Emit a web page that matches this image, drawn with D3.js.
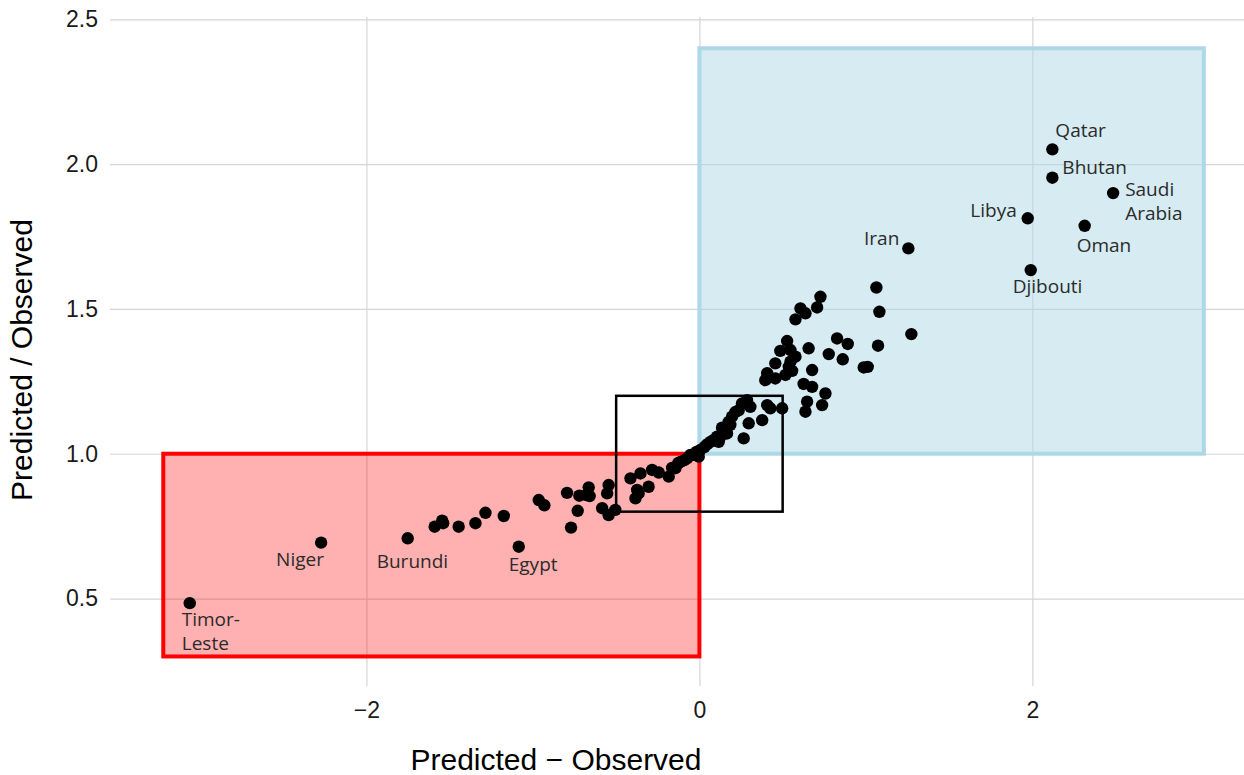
<!DOCTYPE html>
<html>
<head>
<meta charset="utf-8">
<script src="https://cdn.jsdelivr.net/npm/d3@7"></script>
<style>
  body { margin: 0; background: #fff; }
  svg { display: block; }
</style>
</head>
<body>
<script>
const w = 1244
const h = 775

// unlabeled countries: predicted - observed, predicted / observed
const diffVals = [
  -1.590, -1.545, -1.539, -1.446, -1.345, -1.285, -1.175, -0.965, -0.931, -0.795,
  -0.731, -0.771, -0.721, -0.665, -0.659, -0.545, -0.554, -0.584, -0.545, -0.505,
  -0.414, -0.354, -0.284, -0.305, -0.374, -0.384, -0.365, -0.184, -0.164, -0.144,
  -0.126, -0.114, -0.090, -0.074, -0.054, -0.034, -0.018, 0.006, 0.030, 0.066,
  0.084, 0.106, 0.126, 0.116, 0.146, 0.166, 0.176, 0.196, 0.216, 0.266,
  0.296, 0.377, 0.256, 0.286, 0.306, 0.407, 0.426, 0.497, 1.063, 1.081,
  1.273, 1.073, 0.727, 0.707, 0.607, 0.637, 0.577, 0.827, 0.891, 0.777,
  0.861, 0.987, 1.011, 0.656, 0.527, 0.486, 0.547, 0.456, 0.547, 0.407,
  0.396, 0.456, 0.517, 0.557, 0.677, 0.626, 0.677, 0.757, 0.737, 0.647,
  0.637, -0.679, 0.046, -0.004, 0.136, 0.186, 0.236, 0.577, 0.537, -0.244
]
const ratioVals = [
  0.748, 0.769, 0.760, 0.748, 0.760, 0.796, 0.785, 0.840, 0.822, 0.865,
  0.803, 0.745, 0.855, 0.884, 0.854, 0.892, 0.863, 0.812, 0.788, 0.806,
  0.915, 0.932, 0.944, 0.886, 0.875, 0.846, 0.863, 0.921, 0.951, 0.950,
  0.968, 0.972, 0.978, 0.984, 0.996, 0.996, 1.006, 1.013, 1.023, 1.041,
  1.047, 1.059, 1.058, 1.041, 1.082, 1.070, 1.110, 1.128, 1.144, 1.053,
  1.105, 1.116, 1.174, 1.185, 1.162, 1.168, 1.157, 1.157, 1.574, 1.490,
  1.413, 1.373, 1.542, 1.505, 1.502, 1.485, 1.464, 1.398, 1.379, 1.344,
  1.326, 1.298, 1.300, 1.364, 1.389, 1.355, 1.358, 1.312, 1.318, 1.278,
  1.254, 1.260, 1.272, 1.286, 1.289, 1.241, 1.231, 1.208, 1.168, 1.180,
  1.145, 0.857, 1.032, 0.990, 1.090, 1.100, 1.150, 1.335, 1.300, 0.935
]

// labeled countries
const labelNames = ['Qatar', 'Bhutan', 'Saudi\nArabia', 'Libya', 'Iran', 'Oman',
  'Djibouti', 'Niger', 'Burundi', 'Egypt', 'Timor-\nLeste']
const labelDiff = [2.120, 2.120, 2.485, 1.972, 1.255, 2.314, 1.990, -2.272, -1.752, -1.085, -3.061]
const labelRatio = [2.051, 1.953, 1.900, 1.813, 1.709, 1.787, 1.634, 0.693, 0.708, 0.679, 0.484]

// shaded zones [x0, x1, y0, y1]
const zoneRed = [-3.22, 0, 0.3, 1.0]
const zoneBlue = [0, 3.03, 1.0, 2.4]
const zoneCenter = [-0.5, 0.5, 0.8, 1.2]

const xTicks = [-2, 0, 2]
const yTicks = [0.5, 1.0, 1.5, 2.0, 2.5]

// label placement (pixel nudges from the point)
const nudge = {
  'Qatar': [3, -12, 'start'],
  'Bhutan': [10, -4, 'start'],
  'Saudi\nArabia': [12, 3, 'start'],
  'Libya': [-11, -1, 'end'],
  'Iran': [-9, -3, 'end'],
  'Oman': [-8, 26, 'start'],
  'Djibouti': [-18, 23, 'start'],
  'Niger': [-45, 23, 'start'],
  'Burundi': [-31, 30, 'start'],
  'Egypt': [-10, 24, 'start'],
  'Timor-\nLeste': [-8, 23, 'start']
}

const pLeft = 110, pRight = 1255.5, pTop = 17, pBottom = 686

const x = d3.scaleLinear()
    .domain([-3.54, 3.34])
    .range([pLeft, pRight])

const y = d3.scaleLinear()
    .domain([0.198, 2.508])
    .range([pBottom, pTop])

const svg = d3.select('body').append('svg')
    .attr('width', w)
    .attr('height', h)

// grid
svg.append('g')
    .attr('transform', `translate(0,${pBottom})`)
    .call(d3.axisBottom(x).tickValues(xTicks).tickSize(-(pBottom - pTop)).tickFormat(''))
    .call(g => g.select('.domain').remove())
    .selectAll('line').attr('stroke', '#d5d5d5').attr('stroke-width', 1.2)

svg.append('g')
    .attr('transform', `translate(${pLeft},0)`)
    .call(d3.axisLeft(y).tickValues(yTicks).tickSize(-(pRight - pLeft)).tickFormat(''))
    .call(g => g.select('.domain').remove())
    .selectAll('line').attr('stroke', '#d5d5d5').attr('stroke-width', 1.2)

// zones
function zone(z, fill, stroke, sw) {
  svg.append('rect')
      .attr('x', x(z[0]))
      .attr('y', y(z[3]))
      .attr('width', x(z[1]) - x(z[0]))
      .attr('height', y(z[2]) - y(z[3]))
      .attr('fill', fill)
      .attr('stroke', stroke)
      .attr('stroke-width', sw)
}
zone(zoneRed, 'rgba(255,0,0,0.31)', '#ff0000', 4)
zone(zoneBlue, 'rgba(173,216,230,0.5)', '#add8e6', 4)
zone(zoneCenter, 'none', '#000', 2.5)

// points
const pts = diffVals.map((d, i) => ({x: d, y: ratioVals[i]}))
const labeled = labelNames.map((n, i) => ({name: n, x: labelDiff[i], y: labelRatio[i]}))

svg.append('g').selectAll('circle')
    .data(pts.concat(labeled))
    .enter()
    .append('circle')
    .attr('cx', d => x(d.x))
    .attr('cy', d => y(d.y))
    .attr('r', 6.2)
    .attr('fill', '#000')

// labels
const lab = svg.append('g')
    .style('font-family', '"Open Sans", sans-serif')
    .style('font-size', '19px')
    .attr('fill', '#2b2b2b')

labeled.forEach(function (d) {
  const n = nudge[d.name]
  const t = lab.append('text')
      .attr('x', x(d.x) + n[0])
      .attr('y', y(d.y) + n[1])
      .attr('text-anchor', n[2])
  d.name.split('\n').forEach(function (line, i) {
    t.append('tspan')
        .attr('x', x(d.x) + n[0])
        .attr('dy', i === 0 ? 0 : 24)
        .text(line)
  })
})

// axes
svg.append('g')
    .attr('transform', `translate(${pLeft},0)`)
    .call(d3.axisLeft(y).tickValues(yTicks).tickSize(0).tickPadding(12).tickFormat(d3.format('.1f')))
    .call(g => g.select('.domain').remove())
    .selectAll('text')
    .style('font-family', '"Liberation Sans", Arial, sans-serif')
    .style('font-size', '23px')
    .attr('fill', '#1a1a1a')

svg.append('g')
    .attr('transform', `translate(0,${pBottom})`)
    .call(d3.axisBottom(x).tickValues(xTicks).tickSize(0).tickPadding(16).tickFormat(d3.format('d')))
    .call(g => g.select('.domain').remove())
    .selectAll('text')
    .style('font-family', '"Liberation Sans", Arial, sans-serif')
    .style('font-size', '23px')
    .attr('fill', '#1a1a1a')

svg.append('text')
    .attr('x', 556)
    .attr('y', 770)
    .attr('text-anchor', 'middle')
    .style('font-family', '"Liberation Sans", Arial, sans-serif')
    .style('font-size', '30px')
    .text('Predicted \u2212 Observed')

svg.append('text')
    .attr('transform', 'translate(32,360) rotate(-90)')
    .attr('text-anchor', 'middle')
    .style('font-family', '"Liberation Sans", Arial, sans-serif')
    .style('font-size', '30px')
    .text('Predicted / Observed')
</script>
</body>
</html>
